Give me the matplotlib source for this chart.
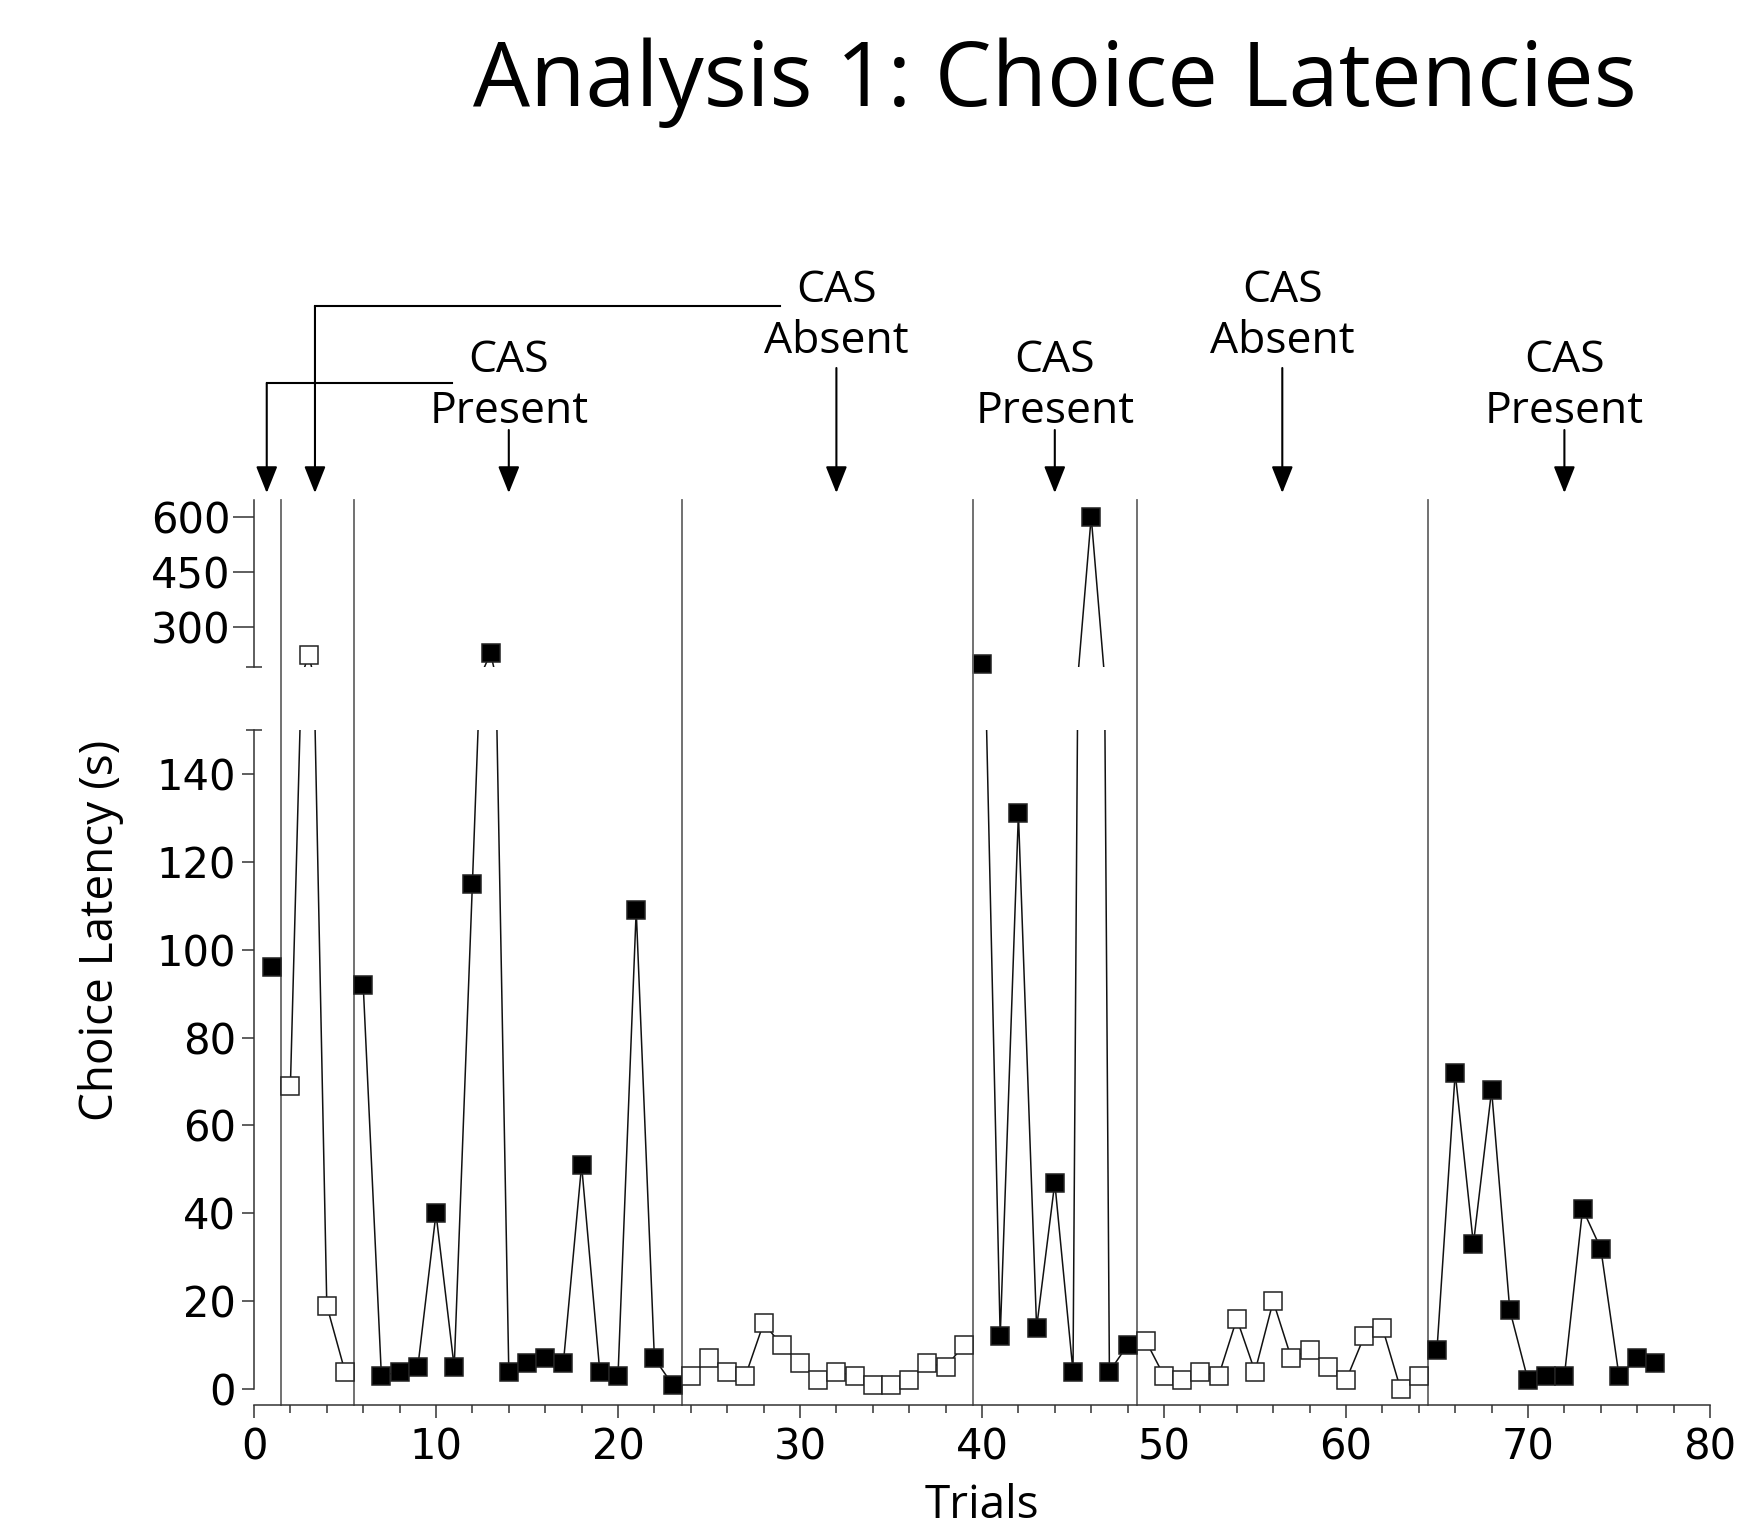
import numpy as np
import matplotlib
matplotlib.use('Agg')
import matplotlib.pyplot as plt

plt.rcParams['font.family'] = ['Open Sans', 'DejaVu Sans']

# choice latency (s) per trial
trials = np.arange(1, 78)
latency = np.array([
    96, 69, 223, 19, 4,
    92, 3, 4, 5, 40, 5, 115, 228, 4, 6, 7, 6, 51, 4, 3, 109, 7, 1,
    3, 7, 4, 3, 15, 10, 6, 2, 4, 3, 1, 1, 2, 6, 5, 10,
    197, 12, 131, 14, 47, 4, 600, 4, 10,
    11, 3, 2, 4, 3, 16, 4, 20, 7, 9, 5, 2, 12, 14, 0, 3,
    9, 72, 33, 68, 18, 2, 3, 3, 41, 32, 3, 7, 6,
])

# phase boundaries (vertical lines) and CAS condition of each phase
phase_edges = [1.5, 5.5, 23.5, 39.5, 48.5, 64.5]
phase_cas = ['Present', 'Absent', 'Present', 'Absent', 'Present', 'Absent', 'Present']

# labels above the plot: (text, trial it points at)
labels = [('CAS\nPresent', 14), ('CAS\nAbsent', 32), ('CAS\nPresent', 44),
          ('CAS\nAbsent', 56.5), ('CAS\nPresent', 72)]
# bent arrows from the first two labels to the short first phases
bent_targets = [0.7, 3.35]

W, H = 1742, 1531
def fy(p):
    return 1 - p / H

fig = plt.figure(figsize=(W / 100, H / 100), dpi=100)

x0, x1 = 254, 1710
lo_top, lo_bot = 730, 1404.5
hi_top, hi_bot = 500, 667

ax_hi = fig.add_axes([x0 / W, fy(hi_bot), (x1 - x0) / W, (hi_bot - hi_top) / H])
ax_lo = fig.add_axes([x0 / W, fy(lo_bot), (x1 - x0) / W, (lo_bot - lo_top) / H])
for ax in (ax_lo, ax_hi):
    ax.patch.set_visible(False)
    ax.set_xlim(0, 80)
    for s in ['top', 'right']:
        ax.spines[s].set_visible(False)
    for s in ['left', 'bottom']:
        ax.spines[s].set_linewidth(1.1)
        ax.spines[s].set_color('#333333')

lo_max, hi_min = 150, 190
ax_lo.set_ylim(-3.5, lo_max)
ax_hi.set_ylim(hi_min, 646)

phase_idx = np.searchsorted(phase_edges, trials)
for k, cas in enumerate(phase_cas):
    m = phase_idx == k
    x, y = trials[m], latency[m]
    face = 'black' if cas == 'Present' else 'white'
    for ax in (ax_lo, ax_hi):
        ax.plot(x, y, color='#111111', lw=1.1, zorder=2)
    lo = y <= lo_max
    ax_lo.plot(x[lo], y[lo], ls='none', marker='s', ms=13, mfc=face, mec='#222222',
               mew=1.1, clip_on=False, zorder=3)
    hi = y >= hi_min
    ax_hi.plot(x[hi], y[hi], ls='none', marker='s', ms=13, mfc=face, mec='#222222',
               mew=1.1, clip_on=False, zorder=3)

# phase dividers run through both panels and the gap
ymax_frac = (lo_bot - hi_top) / (lo_bot - lo_top)
for e in phase_edges:
    ax_lo.axvline(e, ymin=0, ymax=ymax_frac, color='#666666', lw=1.3, clip_on=False, zorder=1)

# lower panel axes
ax_lo.spines['left'].set_bounds(0, lo_max)
ax_lo.set_yticks(range(0, 141, 20))
ax_lo.set_yticks([lo_max], minor=True)
ax_lo.set_xticks(range(0, 81, 10))
ax_lo.set_xticks(range(0, 81, 2), minor=True)
ax_lo.tick_params(axis='y', which='major', direction='out', length=9, width=1.1,
                  labelsize=30, pad=4, color='#333333')
ax_lo.tick_params(axis='y', which='minor', direction='inout', length=12, width=1.1,
                  color='#333333')
ax_lo.tick_params(axis='x', which='major', direction='out', length=9.5, width=1.1,
                  labelsize=30, pad=6, color='#333333')
ax_lo.tick_params(axis='x', which='minor', direction='out', length=6, width=1.1,
                  color='#333333')
ax_lo.set_xlabel('Trials', fontsize=33, labelpad=11)

# upper panel axes
ax_hi.spines['bottom'].set_visible(False)
ax_hi.set_xticks([])
ax_hi.set_yticks([300, 450, 600])
ax_hi.set_yticks([hi_min], minor=True)
ax_hi.tick_params(axis='y', which='major', direction='out', length=15, width=1.1,
                  labelsize=30, pad=2, color='#333333')
ax_hi.tick_params(axis='y', which='minor', direction='inout', length=12, width=1.1,
                  color='#333333')

# tick numbers are in a wider face than the rest of the text
for ax in (ax_lo, ax_hi):
    for t in ax.get_xticklabels() + ax.get_yticklabels():
        t.set_fontfamily('DejaVu Sans')

fig.text(101 / W, fy(930), 'Choice Latency (s)', rotation=90, ha='center', va='center',
         fontsize=33)
fig.text(1055 / W, fy(106), 'Analysis 1: Choice Latencies', ha='center', va='baseline',
         fontsize=65)

# annotation layer above the plot, y measured in pixels from the top
ann = fig.add_axes([x0 / W, fy(500), (x1 - x0) / W, (500 - 230) / H])
ann.set_xlim(0, 80)
ann.set_ylim(500, 230)
ann.axis('off')

head = dict(arrowstyle='-|>,head_length=0.55,head_width=0.22', color='black', lw=1.5,
            mutation_scale=30, shrinkA=0, shrinkB=0)
tip = 493
for text, xt in labels:
    if 'Absent' in text:
        yc, ys = 316, 368
    else:
        yc, ys = 386, 430
    ann.text(xt, yc, text, ha='center', va='center', fontsize=32, linespacing=1.2)
    ann.annotate('', xy=(xt, tip), xytext=(xt, ys), arrowprops=head)

# bent connectors from the first labels
bends = [(10.9, 383), (28.9, 306)]
for (xs, yb), xt in zip(bends, bent_targets):
    ann.plot([xs, xt], [yb, yb], color='black', lw=1.5, clip_on=False)
    ann.annotate('', xy=(xt, tip), xytext=(xt, yb), arrowprops=head)

fig.savefig('out.png', dpi=100)
